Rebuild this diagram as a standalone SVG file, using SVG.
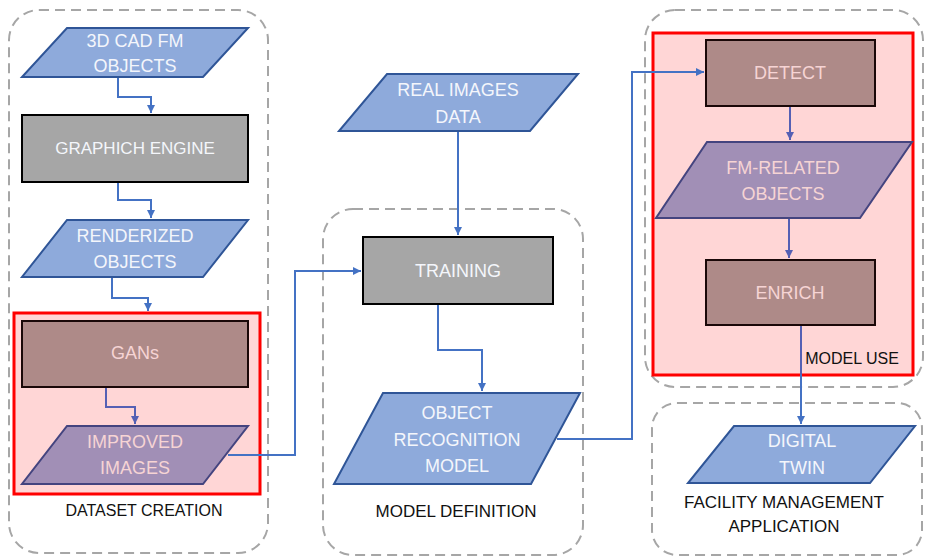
<svg xmlns="http://www.w3.org/2000/svg" width="926" height="556" viewBox="0 0 926 556">
<style>
.cont{fill:none;stroke:#a6a6a6;stroke-width:2;stroke-dasharray:10 6}
.red{fill:#ffd6d6;stroke:#ff0000;stroke-width:3}
.para{fill:#8eaadb;stroke:#2f5597;stroke-width:2}
.parar{fill:#a18fb6;stroke:#44447f;stroke-width:2}
.box{fill:#a6a6a6;stroke:#000;stroke-width:2}
.boxr{fill:#ae8a88;stroke:#1a0808;stroke-width:2}
text{font-family:"Liberation Sans",Arial,sans-serif;text-anchor:middle}
.t{font-size:18px;fill:#f4f6fb}
.tr{font-size:18px;fill:#f6d4d4}
.lab{font-size:16px;fill:#111}
.c{fill:none;stroke:#4472c4;stroke-width:2}
.cr{fill:none;stroke:#5560b4;stroke-width:2}
</style>
<defs>
<marker id="ah" viewBox="0 0 10 10" refX="10" refY="5" markerWidth="4" markerHeight="4" orient="auto"><path d="M0,0 L10,5 L0,10 z" fill="#4472c4"/></marker>
<marker id="ahr" viewBox="0 0 10 10" refX="10" refY="5" markerWidth="4" markerHeight="4" orient="auto"><path d="M0,0 L10,5 L0,10 z" fill="#5560b4"/></marker>
</defs>

<g id="containers">
<g id="dataset-creation"><rect class="cont" x="9" y="10" width="259" height="543" rx="30"/><rect class="red" x="14" y="313" width="246" height="181"/><text class="lab" x="144" y="516">DATASET CREATION</text></g>
<g id="model-definition"><rect class="cont" x="323" y="209" width="260" height="346" rx="30"/><text class="lab" x="456" y="517" style="font-size:17px">MODEL DEFINITION</text></g>
<g id="model-use"><rect class="cont" x="645" y="10" width="278" height="377" rx="30"/><rect class="red" x="653" y="33" width="260" height="342"/></g>
<g id="fm-application"><rect class="cont" x="652" y="403" width="270" height="152" rx="25"/><text class="lab" x="784" y="508" style="font-size:17px">FACILITY MANAGEMENT</text><text class="lab" x="784" y="532" style="font-size:17px">APPLICATION</text></g>
</g>

<g id="connectors">
<path class="c" d="M118,77 V97 H151 V113" marker-end="url(#ah)"/>
<path class="c" d="M118,182 V200 H151 V218" marker-end="url(#ah)"/>
<path class="c" d="M112,277 V298 H148 V311" marker-end="url(#ah)"/>
<path class="cr" d="M106,387 V407 H135 V424" marker-end="url(#ahr)"/>
<path class="c" d="M228,455 H295 V271 H361" marker-end="url(#ah)"/>
<path class="c" d="M458,131 V235" marker-end="url(#ah)"/>
<path class="c" d="M438,304 V350 H482 V391" marker-end="url(#ah)"/>
<path class="c" d="M557,439 H632 V72 H704" marker-end="url(#ah)"/>
<path class="cr" d="M790,106 V140" marker-end="url(#ahr)"/>
<path class="cr" d="M789,218 V258" marker-end="url(#ahr)"/>
<path class="cr" d="M801,325 V375"/>
<path class="c" d="M801,375 V424" marker-end="url(#ah)"/>
</g>

<g id="cad-objects"><polygon class="para" points="67,28 248,28 203,77 22,77"/><text class="t" x="135" y="47">3D CAD FM</text><text class="t" x="135" y="72">OBJECTS</text></g>
<g id="graphich-engine"><rect class="box" x="22" y="115" width="226" height="67"/><text class="t" x="135" y="154" style="font-size:17px">GRAPHICH ENGINE</text></g>
<g id="renderized-objects"><polygon class="para" points="67,220 248,220 203,277 22,277"/><text class="t" x="135" y="242">RENDERIZED</text><text class="t" x="135" y="268">OBJECTS</text></g>
<g id="gans"><rect class="boxr" x="22" y="321" width="226" height="66"/><text class="tr" x="135" y="359">GANs</text></g>
<g id="improved-images"><polygon class="parar" points="67,426 248,426 203,484 22,484"/><text class="tr" x="135" y="448">IMPROVED</text><text class="tr" x="135" y="474">IMAGES</text></g>
<g id="real-images"><polygon class="para" points="387,74 578,74 530,131 339,131"/><text class="t" x="458" y="96">REAL IMAGES</text><text class="t" x="458" y="123">DATA</text></g>
<g id="training"><rect class="box" x="363" y="237" width="190" height="67"/><text class="t" x="458" y="277">TRAINING</text></g>
<g id="object-recognition-model"><polygon class="para" points="383,393 580,393 531,484 334,484"/><text class="t" x="457" y="419">OBJECT</text><text class="t" x="457" y="446">RECOGNITION</text><text class="t" x="457" y="472">MODEL</text></g>
<g id="detect"><rect class="boxr" x="706" y="40" width="169" height="66"/><text class="tr" x="790" y="79">DETECT</text></g>
<g id="fm-related-objects"><polygon class="parar" points="707,142 912,142 860,218 656,218"/><text class="tr" x="783" y="174">FM-RELATED</text><text class="tr" x="783" y="200">OBJECTS</text></g>
<g id="enrich"><rect class="boxr" x="706" y="260" width="169" height="65"/><text class="tr" x="790" y="299">ENRICH</text></g>
<text class="lab" x="852" y="364">MODEL USE</text>
<g id="digital-twin"><polygon class="para" points="734,426 915,426 870,483 688,483"/><text class="t" x="802" y="447">DIGITAL</text><text class="t" x="802" y="474">TWIN</text></g>
</svg>
